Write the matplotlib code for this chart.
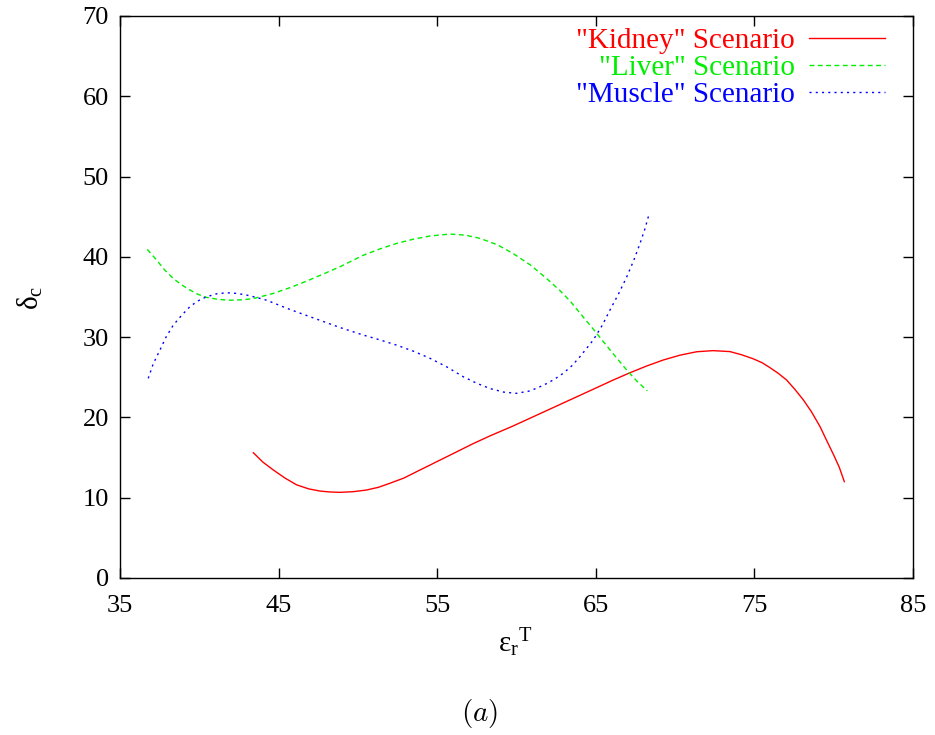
import matplotlib
matplotlib.use("Agg")
import matplotlib.pyplot as plt

# Data
kidney_x = [43.41, 44.0, 44.67, 45.4, 46.14, 46.9, 47.61, 48.2, 48.87, 49.7, 50.55, 51.3,
            52.02, 52.9, 53.7, 55.6, 57.28, 58.33, 59.8, 61.9, 64.0, 66.1, 67.16, 68.2,
            69.25, 70.3, 71.36, 72.4, 73.46, 74.2, 74.93, 75.5, 75.98, 76.5, 77.03, 77.55,
            78.08, 78.6, 79.14, 79.55, 79.98, 80.35, 80.67]
kidney_y = [15.6, 14.45, 13.45, 12.45, 11.6, 11.1, 10.83, 10.72, 10.67, 10.75, 10.96, 11.3,
            11.8, 12.45, 13.24, 15.1, 16.75, 17.7, 18.95, 20.85, 22.75, 24.66, 25.57, 26.4,
            27.15, 27.75, 28.18, 28.32, 28.2, 27.8, 27.3, 26.8, 26.2, 25.5, 24.66, 23.5,
            22.2, 20.7, 18.85, 17.15, 15.4, 13.8, 12.0]

liver_x = [36.72, 37.31, 37.8, 38.36, 38.9, 39.41, 39.9, 40.46, 41.2, 41.94, 42.7, 43.4,
           44.67, 45.7, 46.77, 47.8, 48.87, 50.34, 51.4, 52.45, 53.5, 54.55, 55.8, 56.8,
           57.7, 58.8, 59.8, 60.9, 61.9, 62.74, 63.4, 64.0, 64.84, 65.9, 66.95, 67.6, 68.25]
liver_y = [40.93, 39.6, 38.4, 37.3, 36.5, 35.87, 35.35, 34.95, 34.7, 34.6, 34.65, 34.8,
           35.45, 36.15, 36.98, 37.85, 38.77, 40.2, 41.0, 41.68, 42.2, 42.6, 42.84, 42.7,
           42.3, 41.5, 40.4, 38.95, 37.3, 35.8, 34.45, 33.0, 31.0, 28.4, 25.9, 24.5, 23.3]

muscle_x = [36.78, 37.1, 37.52, 37.9, 38.36, 38.9, 39.41, 39.9, 40.46, 41.1, 41.72, 42.35,
            42.98, 43.6, 44.24, 45.7, 47.18, 48.87, 50.34, 51.4, 52.45, 53.5, 54.55,
            55.6, 56.64, 57.5, 58.33, 59.2, 60.0, 60.85, 61.69, 62.35, 62.95, 63.5, 64.0,
            64.84, 65.4, 65.9, 66.45, 66.95, 67.4, 67.79, 68.1, 68.37]
muscle_y = [24.87, 26.7, 28.4, 30.0, 31.5, 32.75, 33.8, 34.5, 35.03, 35.4, 35.53, 35.45,
            35.24, 34.95, 34.6, 33.46, 32.4, 31.2, 30.26, 29.65, 29.0, 28.25, 27.36,
            26.3, 25.07, 24.25, 23.6, 23.15, 23.0, 23.3, 24.0, 24.7, 25.5, 26.45, 27.56,
            29.64, 31.45, 33.4, 35.45, 37.5, 39.6, 41.68, 43.5, 45.4]

labels = ['"Kidney" Scenario', '"Liver" Scenario', '"Muscle" Scenario']
xticks = [35, 45, 55, 65, 75, 85]
yticks = [0, 10, 20, 30, 40, 50, 60, 70]

plt.rcParams['font.family'] = ['Liberation Serif', 'DejaVu Serif']
plt.rcParams['mathtext.fontset'] = 'custom'
plt.rcParams['mathtext.rm'] = 'Liberation Serif'
plt.rcParams['mathtext.it'] = 'Liberation Serif:italic'

fig = plt.figure(figsize=(9.35, 7.35), dpi=100)
ax = fig.add_axes([120/935, 1 - 578/735, (913 - 120)/935, (578 - 16)/735])

ax.plot(kidney_x, kidney_y, color='#ff0000', lw=1.0, ls='-', label=labels[0])
ax.plot(liver_x, liver_y, color='#00ee00', lw=1.0, ls=(0, (3.5, 2.5)), label=labels[1])
ax.plot(muscle_x, muscle_y, color='#0000ff', lw=1.0, ls=(0, (1.5, 3)), label=labels[2])

ax.set_xlim(35, 85)
ax.set_ylim(0, 70)
ax.set_xticks(xticks)
ax.set_yticks(yticks)
ax.tick_params(direction='in', top=True, right=True, length=7, width=1,
               labelsize=19)
ax.tick_params(axis='x', pad=12)
ax.tick_params(axis='y', pad=8)
for s in ax.spines.values():
    s.set_linewidth(1.0)

leg = ax.legend(loc='upper right', bbox_to_anchor=(885/935, 1 - 28/735),
                bbox_transform=fig.transFigure, frameon=False, borderaxespad=0,
                borderpad=0, fontsize=21, markerfirst=False, handlelength=2.6,
                handletextpad=0.5, labelspacing=0.02)
for t, c in zip(leg.get_texts(), ['#ff0000', '#00ee00', '#0000ff']):
    t.set_color(c)
    t.set_ha('right')
leg._legend_box.align = 'right'

fig.text(515/935, 1 - 643/735, r'$\mathrm{ε}_{\mathrm{r}}{}^{\mathrm{T}}$', ha='center',
         va='center', fontsize=21)
fig.text(30/935, 1 - 298/735, r'$\mathrm{δ}_{\mathrm{c}}$', ha='center', va='center',
         fontsize=21, rotation=90)
fig.text(480/935, 1 - 713/735, r'$(a)$', ha='center', va='center', fontsize=21,
         math_fontfamily='cm')

fig.savefig('out.png', dpi=100)
